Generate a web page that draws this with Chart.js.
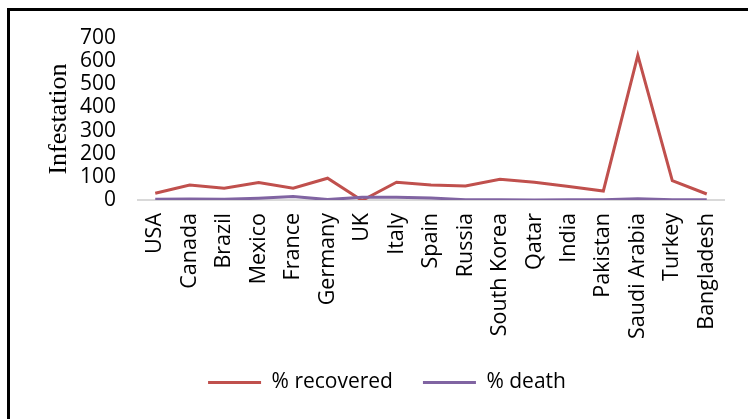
<!DOCTYPE html>
<html>
<head>
<meta charset="utf-8">
<script src="https://cdn.jsdelivr.net/npm/chart.js@4/dist/chart.umd.min.js"></script>
<style>
  html, body { margin: 0; padding: 0; background: #ffffff; }
  #wrap { position: relative; width: 748px; height: 419px; }
</style>
</head>
<body>
<div id="wrap"><canvas id="chart" width="748" height="419"></canvas></div>
<script>
// Countries along the category axis
const countries = ['USA', 'Canada', 'Brazil', 'Mexico', 'France', 'Germany', 'UK', 'Italy', 'Spain',
  'Russia', 'South Korea', 'Qatar', 'India', 'Pakistan', 'Saudi Arabia', 'Turkey', 'Bangladesh'];

// Series values
const recovered = [29, 65, 51, 75, 51, 94, -2, 77, 65, 61, 90, 77, 58, 39, 625, 84, 26];
const death = [3, 4, 3, 8, 15, 2, 12, 12, 9, 1, 1, 0, 1, 1, 5, 1, 1];

// Value axis ticks
const yTicks = [0, 100, 200, 300, 400, 500, 600, 700];

const RED = '#c0504d';
const PURPLE = '#8064a2';

// Thick black frame along the left and top edges
const framePlugin = {
  id: 'frame',
  beforeDraw(chart) {
    const ctx = chart.ctx;
    ctx.save();
    ctx.fillStyle = '#ffffff';
    ctx.fillRect(0, 0, chart.width, chart.height);
    ctx.fillStyle = '#000000';
    ctx.fillRect(7, 8, 3, chart.height - 8);
    ctx.fillRect(7, 8, chart.width - 7, 3);
    ctx.restore();
  }
};

function build() {
  Chart.defaults.font.family = "'Open Sans', sans-serif";
  Chart.defaults.color = '#000000';

  new Chart(document.getElementById('chart'), {
    type: 'line',
    data: {
      labels: countries,
      datasets: [
        {
          label: '% recovered',
          data: recovered,
          borderColor: RED,
          backgroundColor: RED,
          borderWidth: 3,
          pointRadius: 0,
          tension: 0,
          order: 1
        },
        {
          label: '% death',
          data: death,
          borderColor: PURPLE,
          backgroundColor: PURPLE,
          borderWidth: 3,
          pointRadius: 0,
          tension: 0,
          order: 0
        }
      ]
    },
    options: {
      responsive: false,
      animation: false,
      layout: { padding: { left: 50, right: 24, top: 38, bottom: 16 } },
      plugins: {
        tooltip: { enabled: false },
        legend: {
          position: 'bottom',
          labels: {
            boxWidth: 53,
            boxHeight: 3,
            padding: 30,
            font: { size: 21 },
            color: '#000000',
            generateLabels(chart) {
              return chart.data.datasets.map((ds, i) => ({
                text: ds.label,
                fillStyle: ds.borderColor,
                strokeStyle: ds.borderColor,
                lineWidth: 0,
                hidden: false,
                datasetIndex: i,
                fontColor: '#000000'
              }));
            }
          }
        }
      },
      scales: {
        x: {
          offset: true,
          grid: { display: false, drawTicks: false },
          border: { display: true, color: '#d9d9d9', width: 2 },
          ticks: {
            autoSkip: false,
            minRotation: 90,
            maxRotation: 90,
            padding: 13,
            font: { size: 21.5 },
            color: '#000000'
          },
          afterFit(scale) { scale.height = 142; }
        },
        y: {
          min: 0,
          max: 700,
          grid: { display: false, drawTicks: false },
          border: { display: false },
          afterBuildTicks(scale) { scale.ticks = yTicks.map(v => ({ value: v })); },
          ticks: {
            autoSkip: false,
            padding: 22,
            font: { size: 21 },
            color: '#000000'
          },
          title: {
            display: true,
            text: 'Infestation',
            font: { family: "'Liberation Serif', 'Times New Roman', serif", size: 26, weight: 'normal' },
            color: '#000000',
            padding: { top: -6, bottom: 0 }
          },
          afterFit(scale) { scale.width = 88; }
        }
      }
    },
    plugins: [framePlugin]
  });
}

Promise.all([
  document.fonts.load("20px 'Open Sans'"),
  document.fonts.load("26px 'Liberation Serif'")
]).then(build, build);
</script>
</body>
</html>
